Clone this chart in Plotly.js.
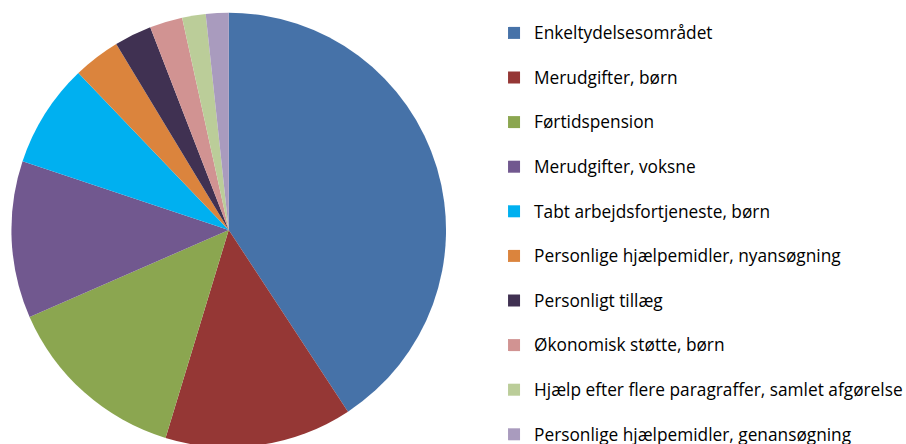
<!DOCTYPE html>
<html>
<head>
<meta charset="utf-8">
<script src="https://cdn.plot.ly/plotly-3.0.1.min.js"></script>
<style>
  html, body { margin: 0; padding: 0; overflow: hidden; background: #fff; }
</style>
</head>
<body>
<div id="chart"></div>
<script>
// andel af sager pr. område (aflæst fra figuren, i procent)
var labels = [
  'Enkeltydelsesområdet',
  'Merudgifter, børn',
  'Førtidspension',
  'Merudgifter, voksne',
  'Tabt arbejdsfortjeneste, børn',
  'Personlige hjælpemidler, nyansøgning',
  'Personligt tillæg',
  'Økonomisk støtte, børn',
  'Hjælp efter flere paragraffer, samlet afgørelse',
  'Personlige hjælpemidler, genansøgning'
];
var values = [40.75, 13.94, 13.75, 11.67, 7.72, 3.50, 2.78, 2.44, 1.75, 1.69];
var colors = ['#4672A8', '#953735', '#8BA650', '#71588F', '#00B0F0',
              '#DB843D', '#403152', '#D19392', '#BBCD99', '#A99BBE'];

// ekstra tom linje giver den store afstand mellem forklaringerne
// (ikke nødvendig på den sidste), lidt større skrift i selve teksten
var legendText = labels.map(function (l, i) {
  var t = '<span style="font-size:17.3px">' + l + '</span>';
  return i < labels.length - 1 ? t + '<br> ' : t;
});

var data = [{
  type: 'pie',
  labels: legendText,
  values: values,
  sort: false,
  direction: 'clockwise',
  rotation: 0,
  textinfo: 'none',
  hoverinfo: 'none',
  marker: { colors: colors, line: { width: 0 } },
  domain: { x: [0.0126, 0.4923], y: [0.0104, 0.9719] }
}];

var layout = {
  width: 906,
  height: 452,
  margin: { l: 0, r: 0, t: 0, b: 0, autoexpand: false },
  paper_bgcolor: '#fff',
  font: { family: 'Open Sans, sans-serif', size: 16, color: '#000' },
  showlegend: true,
  legend: {
    x: 0.5453,
    y: 0.9646,
    xanchor: 'left',
    yanchor: 'top',
    valign: 'top',
    maxheight: 1000,
    font: { family: 'Open Sans, sans-serif', size: 16, color: '#000' }
  }
};

Plotly.newPlot('chart', data, layout, { displayModeBar: false, staticPlot: true });
</script>
</body>
</html>
